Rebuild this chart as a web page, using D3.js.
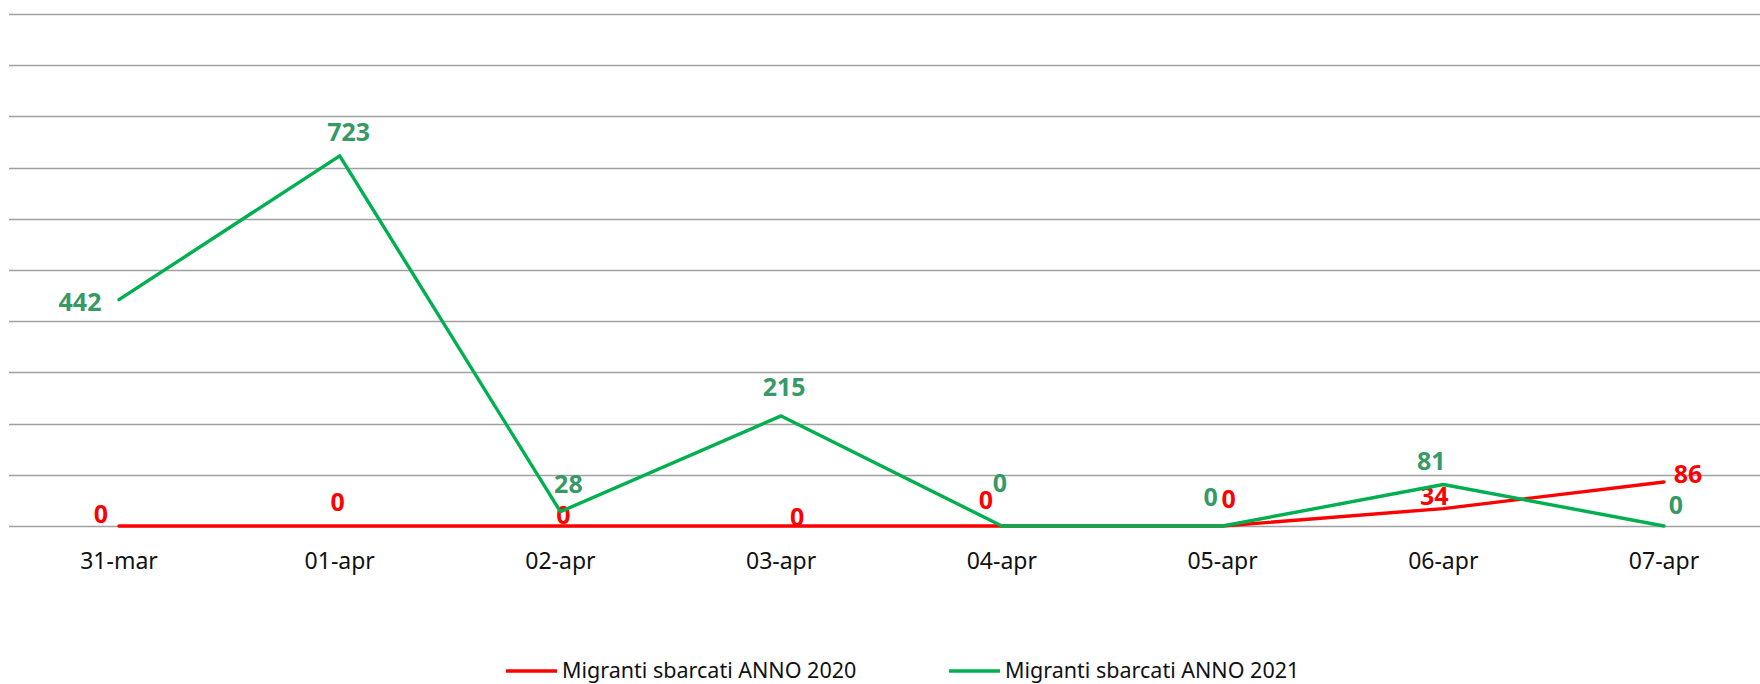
<!DOCTYPE html>
<html>
<head>
<meta charset="utf-8">
<script src="https://cdn.jsdelivr.net/npm/d3@7"></script>
<style>
  body { margin: 0; background: white; }
  svg { display: block; }
</style>
</head>
<body>
<div id="chart"></div>
<script>
// categories on the x axis
var days = ["31-mar","01-apr","02-apr","03-apr","04-apr","05-apr","06-apr","07-apr"]
// migranti sbarcati per giorno
var values2020 = [0,0,0,0,0,0,34,86]
var values2021 = [442,723,28,215,0,0,81,0]
var seriesNames = ["Migranti sbarcati ANNO 2020","Migranti sbarcati ANNO 2021"]
var yTicks = [0,100,200,300,400,500,600,700,800,900,1000]

// where each data label sits relative to its point (dx, dy to label centre)
var labelShift2020 = [[-18,-12],[-2,-24],[3,-11],[16,-9],[-16,-26],[6,-27],[-9,-13],[24,-8]]
var labelShift2021 = [[-39,2],[9,-24],[8,-28],[3,-29],[-2,-43],[-12,-29],[-12,-24],[12,-21]]

class chart {
  constructor(parent){
    this.parent = parent
    this.width = 1760
    this.height = 684
    this.red = "#ff0000"
    this.green = "#00b050"
    this.greenText = "#379a66"
    this.draw()
  }
  draw(){
    this.svg = this.parent
                  .append("svg")
                  .attr("width",this.width)
                  .attr("height",this.height)
    this.x = d3.scalePoint()
                  .domain(days)
                  .range([119,1664])
    this.y = d3.scaleLinear()
                  .domain([0,1000])
                  .range([526,14])

    // horizontal gridlines
    this.svg.append("g")
                  .selectAll("line")
                  .data(yTicks)
                  .join("line")
                  .attr("x1",9)
                  .attr("x2",this.width)
                  .attr("y1",d => Math.round(this.y(d)) + 0.5)
                  .attr("y2",d => Math.round(this.y(d)) + 0.5)
                  .attr("stroke","#a0a0a0")
                  .attr("stroke-width",1.5)

    // x axis labels
    this.svg.append("g")
                  .selectAll("text")
                  .data(days)
                  .join("text")
                  .attr("x",d => this.x(d))
                  .attr("y",569)
                  .attr("text-anchor","middle")
                  .attr("font-family","'Noto Sans', sans-serif")
                  .attr("font-size",23)
                  .attr("fill","#111")
                  .text(d => d)

    this.series(values2020,this.red,this.red,labelShift2020)
    this.series(values2021,this.green,this.greenText,labelShift2021)
    this.legend()
  }//end of draw

  series(values,colour,textColour,shifts){
    var line = d3.line()
                  .x((d,i) => this.x(days[i]))
                  .y(d => this.y(d))
    this.svg.append("path")
                  .datum(values)
                  .attr("d",line)
                  .attr("fill","none")
                  .attr("stroke",colour)
                  .attr("stroke-width",3.4)
                  .attr("stroke-linejoin","round")
                  .attr("stroke-linecap","round")
    this.svg.append("g")
                  .selectAll("text")
                  .data(values)
                  .join("text")
                  .attr("x",(d,i) => this.x(days[i]) + shifts[i][0])
                  .attr("y",(d,i) => this.y(d) + shifts[i][1] + 9)
                  .attr("text-anchor","middle")
                  .attr("font-family","'Noto Sans', sans-serif")
                  .attr("font-weight","bold")
                  .attr("font-size",25)
                  .attr("fill",textColour)
                  .text(d => d)
  }

  legend(){
    var colours = [this.red,this.green]
    var starts = [506,949]
    var items = this.svg.append("g")
                  .selectAll("g")
                  .data(seriesNames)
                  .join("g")
                  .attr("transform",(d,i) => "translate(" + starts[i] + ",671)")
    items.append("line")
                  .attr("x1",0)
                  .attr("x2",51)
                  .attr("stroke",(d,i) => colours[i])
                  .attr("stroke-width",3.4)
    items.append("text")
                  .attr("x",56)
                  .attr("y",7)
                  .attr("font-family","'Noto Sans', sans-serif")
                  .attr("font-size",21.5)
                  .attr("fill","#111")
                  .text(d => d)
  }
};

var c = new chart(d3.select("#chart"))
</script>
</body>
</html>
